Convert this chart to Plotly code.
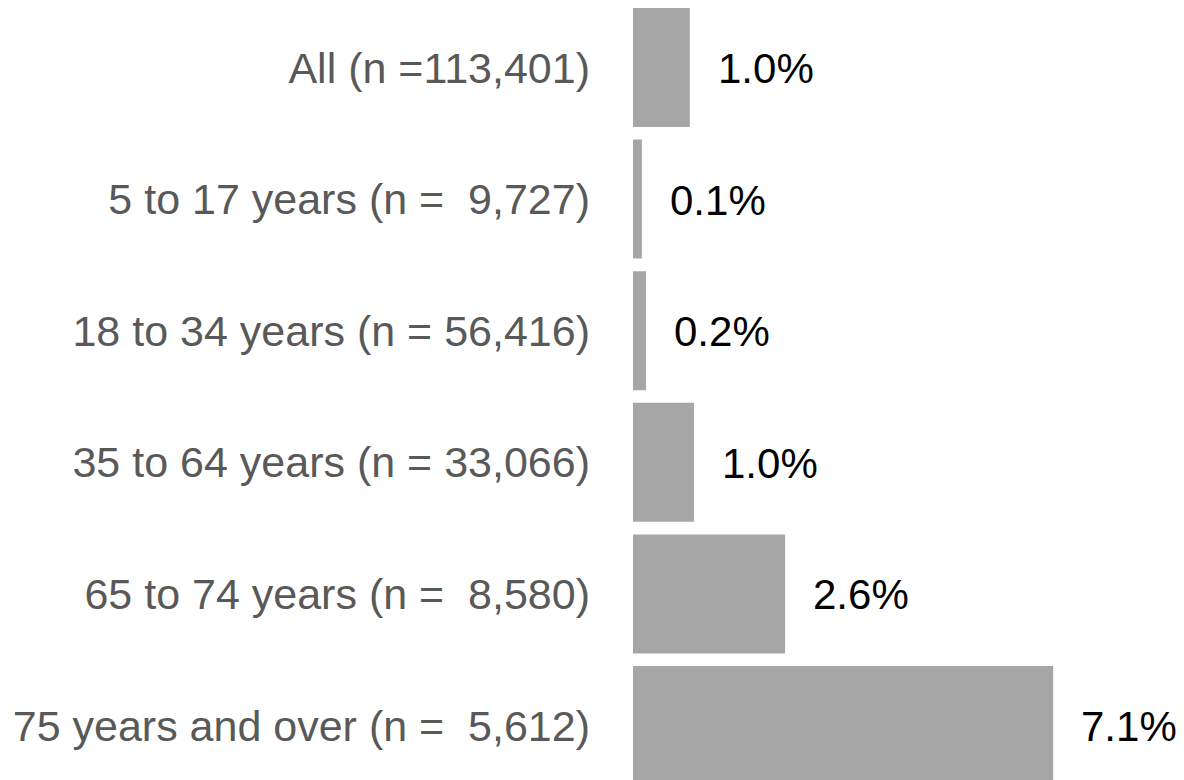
"""Horizontal bar chart: share by age group."""

import plotly.graph_objects as go

categories = [
    "All (n =113,401)",
    "5 to 17 years (n =  9,727)",
    "18 to 34 years (n = 56,416)",
    "35 to 64 years (n = 33,066)",
    "65 to 74 years (n =  8,580)",
    "75 years and over (n =  5,612)",
]
values = [0.96, 0.15, 0.22, 1.03, 2.57, 7.1]
value_labels = ["1.0%", "0.1%", "0.2%", "1.0%", "2.6%", "7.1%"]

FONT = "Liberation Sans, Arial, sans-serif"

fig = go.Figure()
fig.add_trace(go.Bar(
    x=values, y=categories,
    orientation="h",
    marker=dict(color="#a6a6a6", line=dict(width=0)),
    hoverinfo="skip",
))

for cat, val, lab in zip(categories, values, value_labels):
    fig.add_annotation(
        x=val, y=cat, text=lab,
        xanchor="left", yanchor="middle",
        xshift=26, yshift=-1, showarrow=False,
        font=dict(family=FONT, size=42, color="#000000"),
    )

fig.update_layout(
    width=1176, height=772,
    margin=dict(l=625, r=0, t=0, b=0),
    plot_bgcolor="white", paper_bgcolor="white",
    bargap=0.096,
    showlegend=False,
    font=dict(family=FONT),
)
fig.update_xaxes(
    range=[0, 9.31], visible=False, showgrid=False, zeroline=False,
)
fig.update_yaxes(
    categoryorder="array", categoryarray=categories[::-1],
    range=[-0.414, 5.452],
    showgrid=False, zeroline=False, showline=False, ticks="",
    ticklabelstandoff=42,
    tickfont=dict(family=FONT, size=43, color="#595959"),
    automargin=False,
)

fig.write_html("out.html")
